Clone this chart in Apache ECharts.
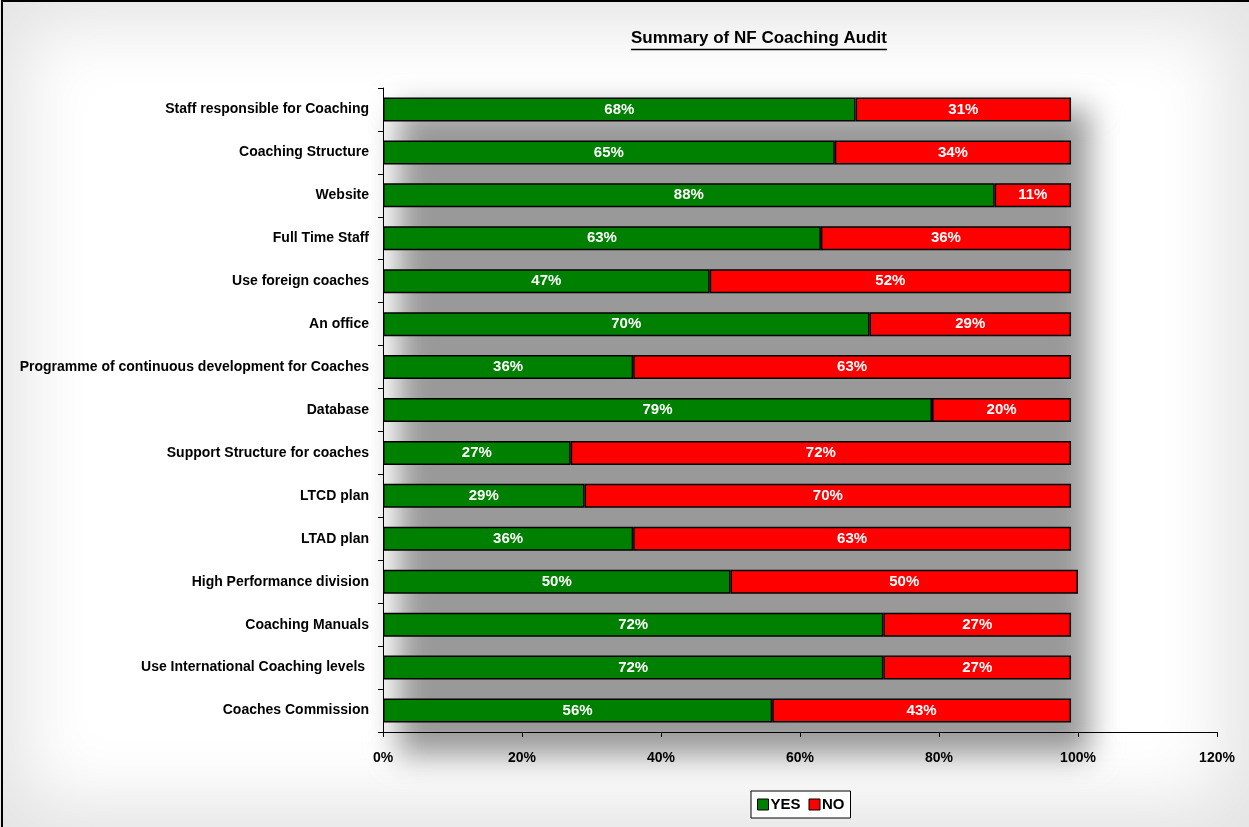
<!DOCTYPE html>
<html>
<head>
<meta charset="utf-8">
<script src="https://cdn.jsdelivr.net/npm/echarts@6/dist/echarts.min.js"></script>
<style>
html,body{margin:0;padding:0;background:#fff;overflow:hidden}
#wrap{position:relative;width:1249px;height:827px;overflow:hidden;background:#fff;box-shadow:inset 0 0 70px 25px #e4e4e4}
#glow{position:absolute;left:398px;top:108px;width:692px;height:648px;background:#999;filter:blur(15px)}
#frame{position:absolute;left:1px;top:0;width:1400px;height:1000px;border-left:2px solid #000;border-top:2px solid #000;pointer-events:none}
#c{position:absolute;left:0;top:0;width:1249px;height:827px}
</style>
</head>
<body>
<div id="wrap">
  <div id="glow"></div>
  <div id="c"></div>
  <div id="frame"></div>
</div>
<script>
const categories = [
  "Staff responsible for Coaching",
  "Coaching Structure",
  "Website",
  "Full Time Staff",
  "Use foreign coaches",
  "An office",
  "Programme of continuous development for Coaches",
  "Database",
  "Support Structure for coaches",
  "LTCD plan",
  "LTAD plan",
  "High Performance division",
  "Coaching Manuals",
  "Use International Coaching levels ",
  "Coaches Commission"
];
const yesValues = [68, 65, 88, 63, 47, 70, 36, 79, 27, 29, 36, 50, 72, 72, 56];
const noValues  = [31, 34, 11, 36, 52, 29, 63, 20, 72, 70, 63, 50, 27, 27, 43];
const xTicks = [0, 20, 40, 60, 80, 100, 120];
const titleText = "Summary of NF Coaching Audit";

const FONT = "'Liberation Sans', Arial, sans-serif";
const chart = echarts.init(document.getElementById('c'));

chart.setOption({
  animation: false,
  backgroundColor: 'transparent',
  graphic: [
    { type: 'text', z: 100, x: 759, y: 30,
      style: { text: titleText, font: "bold 17px " + FONT, fill: '#000', align: 'center', verticalAlign: 'top', textAlign: 'center', textVerticalAlign: 'top' } },
    { type: 'line', z: 100, shape: { x1: 631, y1: 49.5, x2: 887, y2: 49.5 },
      style: { stroke: '#000', lineWidth: 1.5 } }
  ],
  grid: { left: 383, top: 88, width: 834, height: 644, containLabel: false, outerBoundsMode: 'none' },
  legend: {
    data: ['YES', 'NO'],
    left: 751, top: 791,
    backgroundColor: '#fff', borderColor: '#000', borderWidth: 1,
    padding: [6, 6, 6, 6],
    itemWidth: 11, itemHeight: 11, itemGap: 8,
    icon: 'rect',
    itemStyle: { borderColor: '#000', borderWidth: 1 },
    textStyle: { fontFamily: FONT, fontWeight: 'bold', fontSize: 15, color: '#000', padding: [0, 0, 0, -3] }
  },
  xAxis: {
    type: 'value', min: 0, max: 120, interval: 20,
    axisLine: { show: true, lineStyle: { color: '#000', width: 1 } },
    axisTick: { show: true, length: 5, lineStyle: { color: '#000' } },
    splitLine: { show: false },
    axisLabel: { formatter: '{value}%', fontFamily: FONT, fontWeight: 'bold', fontSize: 14, color: '#000', margin: 19 }
  },
  yAxis: {
    type: 'category', data: categories, inverse: true,
    axisLine: { show: true, lineStyle: { color: '#000', width: 1 } },
    axisTick: { show: true, length: 5, alignWithLabel: false, lineStyle: { color: '#000' } },
    axisLabel: { fontFamily: FONT, fontWeight: 'bold', fontSize: 14, color: '#000', margin: 14 }
  },
  series: [
    { name: 'YES', type: 'bar', stack: 'a', data: yesValues, barWidth: 24,
      itemStyle: { color: '#008000', borderColor: '#000', borderWidth: 1.5 },
      label: { show: true, position: 'inside', formatter: '{c}%', color: '#fff', fontFamily: FONT, fontWeight: 'bold', fontSize: 15 } },
    { name: 'NO', type: 'bar', stack: 'a', data: noValues, barWidth: 24,
      itemStyle: { color: '#ff0000', borderColor: '#000', borderWidth: 1.5 },
      label: { show: true, position: 'inside', formatter: '{c}%', color: '#fff', fontFamily: FONT, fontWeight: 'bold', fontSize: 15 } }
  ]
});
</script>
</body>
</html>
